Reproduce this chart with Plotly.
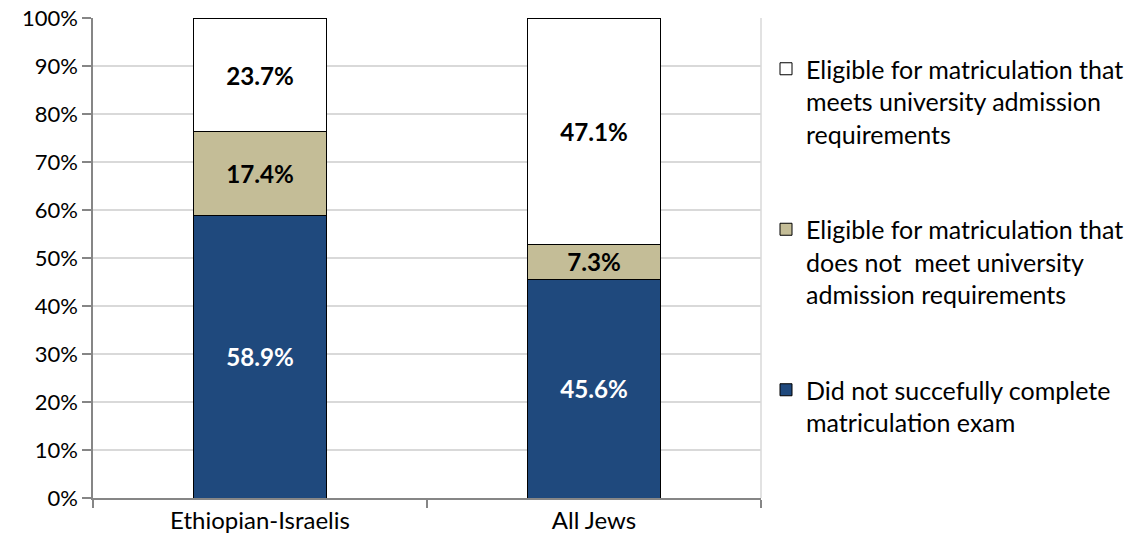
import plotly.graph_objects as go

categories = ["Ethiopian-Israelis", "All Jews"]
series_names = [
    "Did not succefully complete<br>matriculation exam",
    "Eligible for matriculation that<br>does not  meet university<br>admission requirements",
    "Eligible for matriculation that<br>meets university admission<br>requirements",
]
not_complete = [58.9, 45.6]
eligible_not_meet = [17.4, 7.3]
eligible_meet = [23.7, 47.1]
y_ticks = [0, 10, 20, 30, 40, 50, 60, 70, 80, 90, 100]

colors = ["#1F497D", "#C4BD97", "#FFFFFF"]
text_colors = ["#FFFFFF", "#000000", "#000000"]
FONT = "Lato"

fig = go.Figure()
for i, (name, vals) in enumerate(zip(series_names, [not_complete, eligible_not_meet, eligible_meet])):
    fig.add_trace(go.Bar(
        x=categories, y=[v / 100 for v in vals], name=name,
        marker=dict(color=colors[i], line=dict(color="#000000", width=1)),
        text=[f"{v:.1f}%" for v in vals], textposition="inside", insidetextanchor="middle",
        textfont=dict(family=FONT, size=25, color=text_colors[i], weight="bold"),
        legendgroup=f"g{i}", legendrank=3 - i, width=0.4, hoverinfo="skip",
    ))

fig.update_layout(
    barmode="stack",
    width=1130, height=548, autosize=False,
    margin=dict(l=93, r=369, t=18, b=50),
    paper_bgcolor="white", plot_bgcolor="white",
    font=dict(family=FONT, size=23, color="#000000"),
    uniformtext=dict(mode="show", minsize=10),
    legend=dict(
        xref="container", yref="container",
        x=766 / 1130, xanchor="left", y=1 - 46 / 548, yanchor="top",
        traceorder="grouped", tracegroupgap=60, valign="top",
        font=dict(family=FONT, size=25), itemwidth=30, maxheight=530,
    ),
    shapes=[dict(type="line", xref="paper", yref="paper", x0=1, x1=1, y0=0, y1=1,
                 line=dict(color="#D9D9D9", width=1.5))],
)
fig.update_yaxes(
    range=[0, 1], tickvals=[t / 100 for t in y_ticks], ticktext=[f"{t}%" for t in y_ticks],
    showgrid=True, gridcolor="#D9D9D9", gridwidth=1.5,
    showline=True, linecolor="#868686", linewidth=1.5,
    ticks="outside", ticklen=9, tickcolor="#868686", tickwidth=1.5,
    tickfont=dict(family=FONT, size=22), zeroline=False, automargin=False,
)
fig.update_xaxes(
    showline=True, linecolor="#868686", linewidth=1.5,
    ticks="outside", tickson="boundaries", ticklen=8, tickcolor="#868686", tickwidth=1.5,
    tickfont=dict(family=FONT, size=24), automargin=False,
)

fig.write_html("out.html", config={"displayModeBar": False},
               post_script="document.body.style.margin='0';")
